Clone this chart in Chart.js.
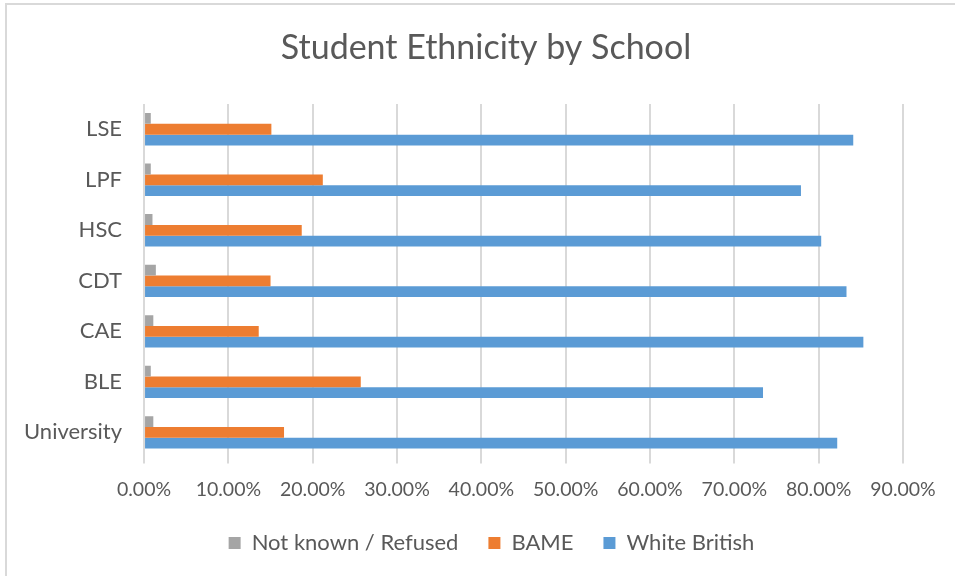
<!DOCTYPE html>
<html>
<head>
<meta charset="utf-8">
<script src="https://cdn.jsdelivr.net/npm/chart.js@4"></script>
<style>
  html, body { margin: 0; padding: 0; background: #fff; }
  #wrap { width: 955px; height: 576px; position: relative; }
</style>
</head>
<body>
<div id="wrap"><canvas id="ethnicityChart"></canvas></div>
<script>
// schools, top to bottom as drawn
const schools = ['LSE', 'LPF', 'HSC', 'CDT', 'CAE', 'BLE', 'University'];

// shares per school (fractions)
const notKnown = [0.008, 0.008, 0.010, 0.014, 0.011, 0.008, 0.011];
const bame = [0.151, 0.212, 0.187, 0.150, 0.136, 0.257, 0.166];
const whiteBritish = [0.841, 0.779, 0.803, 0.833, 0.853, 0.734, 0.822];

const chartTitle = 'Student Ethnicity by School';
const xMax = 0.9;
const xStep = 0.1;

const textColor = '#595959';
const gridColor = '#d9d9d9';
const fontFamily = 'Lato, "Open Sans", sans-serif';

// white background, faint frame on the left and top, and the title
// (drawn by hand because the original sits a bit right of centre)
const framePlugin = {
    id: 'frame',
    afterLayout(chart) {
        // legend in the original is also shifted right
        if (chart.legend) {
            chart.legend.left += 35;
            chart.legend.right += 35;
        }
    },
    beforeDraw(chart) {
        const ctx = chart.ctx;
        ctx.save();
        ctx.fillStyle = '#fff';
        ctx.fillRect(0, 0, chart.width, chart.height);
        ctx.strokeStyle = '#d9d9d9';
        ctx.lineWidth = 2;
        ctx.beginPath();
        ctx.moveTo(6, chart.height);
        ctx.lineTo(6, 4);
        ctx.lineTo(chart.width, 4);
        ctx.stroke();

        ctx.fillStyle = textColor;
        ctx.font = '34px ' + fontFamily;
        ctx.textAlign = 'center';
        ctx.textBaseline = 'middle';
        ctx.fillText(chartTitle, 486, 48);
        ctx.restore();
    }
};

document.addEventListener('DOMContentLoaded', () => {
    const canvas = document.getElementById('ethnicityChart');

    new Chart(canvas, {
        type: 'bar',
        data: {
            labels: schools,
            datasets: [
                { label: 'Not known / Refused', data: notKnown, backgroundColor: '#a5a5a5' },
                { label: 'BAME', data: bame, backgroundColor: '#ed7d31' },
                { label: 'White British', data: whiteBritish, backgroundColor: '#5b9bd5' }
            ]
        },
        options: {
            indexAxis: 'y',
            responsive: true,
            maintainAspectRatio: false,
            animation: false,
            datasets: {
                bar: {
                    categoryPercentage: 0.64,
                    barPercentage: 1.0,
                    borderWidth: 0
                }
            },
            layout: {
                padding: { left: 10, right: 52, top: 104, bottom: 12 }
            },
            plugins: {
                title: { display: false },
                legend: {
                    position: 'bottom',
                    labels: {
                        color: textColor,
                        font: { family: fontFamily, size: 22 },
                        boxWidth: 12,
                        boxHeight: 12,
                        padding: 30
                    }
                },
                tooltip: { enabled: false }
            },
            scales: {
                x: {
                    min: 0,
                    max: xMax,
                    // the legend's padding leaves too much room; pull the axis down
                    afterFit: scale => { scale.height -= 13; },
                    ticks: {
                        stepSize: xStep,
                        color: textColor,
                        font: { family: fontFamily, size: 19.5 },
                        padding: 14,
                        callback: v => (v * 100).toFixed(2) + '%'
                    },
                    grid: {
                        color: gridColor,
                        lineWidth: 2,
                        tickLength: 6
                    },
                    border: { display: false }
                },
                y: {
                    ticks: {
                        color: textColor,
                        font: { family: fontFamily, size: 22 },
                        padding: 14
                    },
                    grid: { display: false },
                    border: { display: false }
                }
            }
        },
        plugins: [framePlugin]
    });
});
</script>
</body>
</html>
